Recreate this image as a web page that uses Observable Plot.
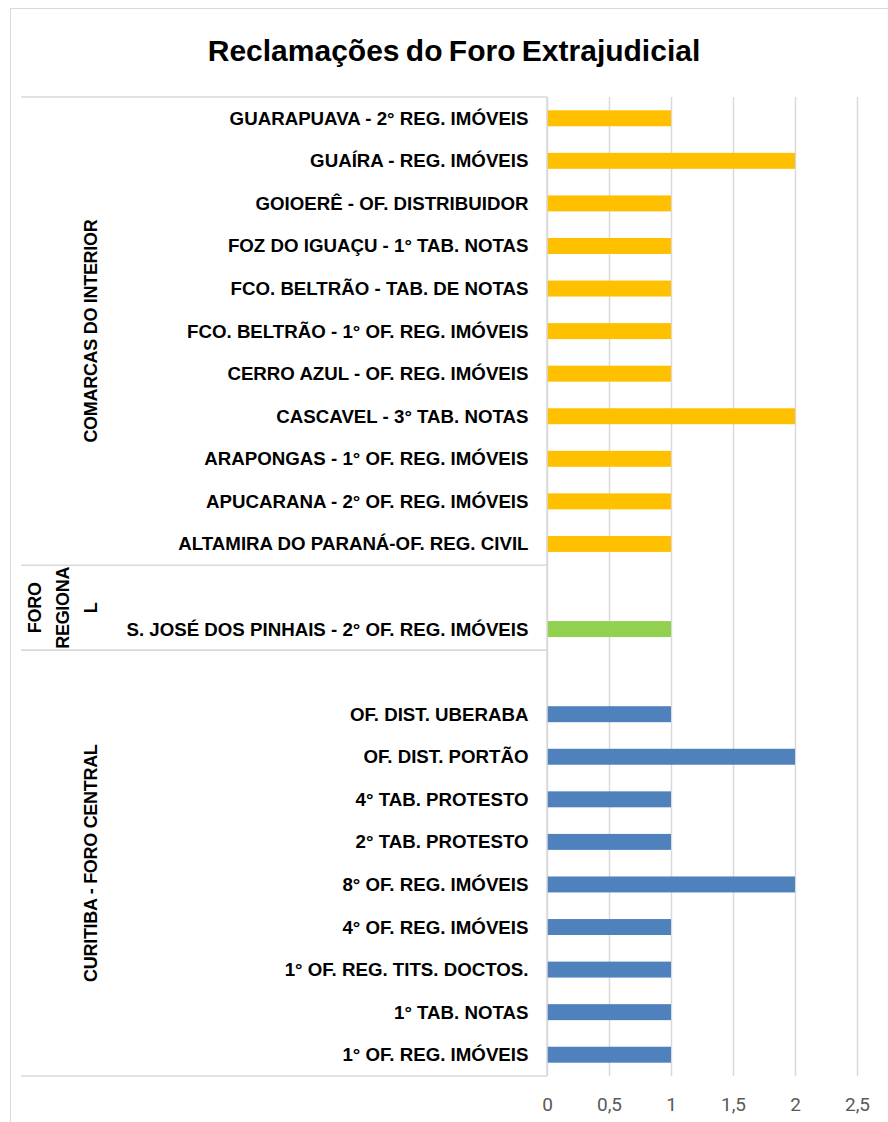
<!DOCTYPE html>
<html>
<head>
<meta charset="utf-8">
<script src="https://cdn.jsdelivr.net/npm/d3@7"></script>
<script src="https://cdn.jsdelivr.net/npm/@observablehq/plot@0.6"></script>
<style>
  html, body { margin: 0; padding: 0; background: #fff; }
  #wrap { position: relative; width: 888px; height: 1122px; overflow: hidden; background: #fff; }
  #border { position: absolute; left: 10px; top: 8px; width: 920px; height: 1200px; border: 1px solid #d9d9d9; box-sizing: border-box; pointer-events: none; z-index: 2; }
  #title { position: absolute; left: 10px; width: 888px; top: 36px; line-height: 30px; text-align: center;
           font-family: "Liberation Sans", Arial, sans-serif; font-weight: bold; font-size: 30px; word-spacing: -2px; color: #000; z-index: 1; }
  #chart { position: absolute; left: 0; top: 80px; z-index: 0; }
</style>
</head>
<body>
<div id="wrap">
  <div id="chart"></div>
  <div id="title">Reclamações do Foro Extrajudicial</div>
  <div id="border"></div>
</div>
<script>
// ---- Data (top to bottom) ----
const interiorNames = [
  "GUARAPUAVA - 2° REG. IMÓVEIS",
  "GUAÍRA - REG. IMÓVEIS",
  "GOIOERÊ - OF. DISTRIBUIDOR",
  "FOZ DO IGUAÇU - 1° TAB. NOTAS",
  "FCO. BELTRÃO - TAB. DE NOTAS",
  "FCO. BELTRÃO - 1° OF. REG. IMÓVEIS",
  "CERRO AZUL - OF. REG. IMÓVEIS",
  "CASCAVEL - 3° TAB. NOTAS",
  "ARAPONGAS - 1° OF. REG. IMÓVEIS",
  "APUCARANA - 2° OF. REG. IMÓVEIS",
  "ALTAMIRA DO PARANÁ-OF. REG. CIVIL"
];
const interiorValues = [1, 2, 1, 1, 1, 1, 1, 2, 1, 1, 1];

const regionalNames = ["__gap1", "S. JOSÉ DOS PINHAIS - 2° OF. REG. IMÓVEIS"];
const regionalValues = [null, 1];

const centralNames = [
  "__gap2",
  "OF. DIST. UBERABA",
  "OF. DIST. PORTÃO",
  "4° TAB. PROTESTO",
  "2° TAB. PROTESTO",
  "8° OF. REG. IMÓVEIS",
  "4° OF. REG. IMÓVEIS",
  "1° OF. REG. TITS. DOCTOS.",
  "1° TAB. NOTAS",
  "1° OF. REG. IMÓVEIS"
];
const centralValues = [null, 1, 2, 1, 1, 2, 1, 1, 1, 1];

const groupLabels = ["COMARCAS DO INTERIOR", "FORO\nREGIONA\nL", "CURITIBA - FORO CENTRAL"];
const groupColors = ["#FFC000", "#92D050", "#4F81BD"];
const xTicks = [0, 0.5, 1, 1.5, 2, 2.5];

// ---- Build table ----
const groups = [
  {label: groupLabels[0], color: groupColors[0], keys: interiorNames, values: interiorValues},
  {label: groupLabels[1], color: groupColors[1], keys: regionalNames, values: regionalValues},
  {label: groupLabels[2], color: groupColors[2], keys: centralNames, values: centralValues}
];
const yDomain = groups.flatMap(g => g.keys);
const rows = groups.flatMap(g => g.keys.map((k, i) => ({key: k, value: g.values[i], color: g.color})))
  .filter(d => d.value != null);

const FONT = '"Liberation Sans", Arial, sans-serif';

function decor(index, scales, values, dimensions) {
  const y = scales.y;
  const bw = (typeof y.bandwidth === "function") ? y.bandwidth() : (y(yDomain[1]) - y(yDomain[0]));
  const ml = dimensions.marginLeft;
  const g = d3.create("svg:g");
  const bounds = new Set();
  groups.forEach(gr => {
    bounds.add(y(gr.keys[0]));
    bounds.add(y(gr.keys[gr.keys.length - 1]) + bw);
  });
  for (const b of bounds) {
    g.append("line")
      .attr("x1", ml - 526).attr("x2", ml)
      .attr("y1", b).attr("y2", b)
      .attr("stroke", "#d9d9d9").attr("stroke-width", 1.5);
  }
  // category axis line
  g.append("line")
    .attr("x1", ml).attr("x2", ml)
    .attr("y1", dimensions.marginTop).attr("y2", dimensions.height - dimensions.marginBottom)
    .attr("stroke", "#d9d9d9").attr("stroke-width", 1.5);
  groups.forEach(gr => {
    const top = y(gr.keys[0]);
    const bottom = y(gr.keys[gr.keys.length - 1]) + bw;
    const cy = (top + bottom) / 2;
    const lines = gr.label.split("\n");
    const n = lines.length;
    const t = g.append("text")
      .attr("transform", `translate(91,${cy}) rotate(-90)`)
      .attr("text-anchor", "middle")
      .attr("font-family", FONT)
      .attr("font-weight", "bold")
      .attr("font-size", 18)
      .attr("letter-spacing", -0.3)
      .attr("fill", "#000");
    lines.forEach((ln, i) => {
      t.append("tspan").attr("x", 0).attr("y", (i - (n - 1)) * 28).attr("dy", "0.35em").text(ln);
    });
  });
  return g.node();
}

const chart = Plot.plot({
  width: 888,
  height: 1042,
  marginTop: 17,
  marginBottom: 46,
  marginLeft: 547,
  marginRight: 31,
  style: {fontFamily: FONT, background: "transparent"},
  x: {domain: [0, 2.5]},
  y: {domain: yDomain, padding: 0, round: false},
  color: {type: "identity"},
  marks: [
    Plot.gridX(xTicks, {stroke: "#d9d9d9", strokeOpacity: 1, strokeWidth: 1.5}),
    Plot.barX(rows, {x: "value", y: "key", fill: d => d.color, insetTop: 13.3, insetBottom: 13.3}),
    decor,
    Plot.axisY({tickSize: 0, tickPadding: 19, label: null,
      tickFormat: d => d.startsWith("__") ? "" : d,
      fontSize: 18.7, fontWeight: "bold", color: "#000"}),
    Plot.axisX(xTicks, {tickSize: 0, tickPadding: 21, label: null,
      tickFormat: d => String(d).replace(".", ","),
      fontSize: 19, fontFamily: "Roboto", color: "#595959"})
  ]
});
document.getElementById("chart").appendChild(chart);
</script>
</body>
</html>
